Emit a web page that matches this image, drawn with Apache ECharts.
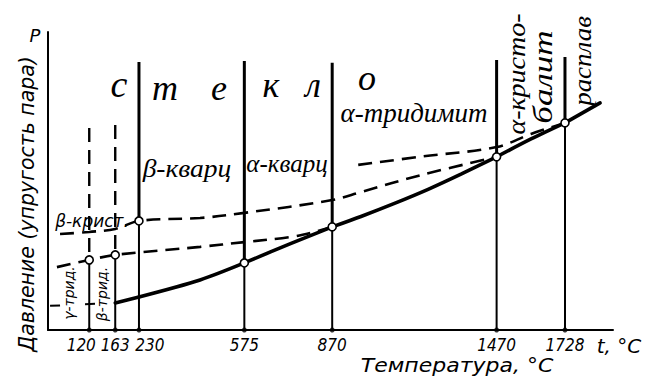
<!DOCTYPE html>
<html><head><meta charset="utf-8">
<script src="https://cdn.jsdelivr.net/npm/echarts@6/dist/echarts.min.js"></script>
<style>html,body{margin:0;padding:0;background:#fff}#c{width:648px;height:379px}</style>
</head><body><div id="c"></div>
<script>
// Temperature tick values, °C
const tempTicks = [120, 163, 230, 575, 870, 1470, 1728];
// The original diagram is schematic (not to scale): temperatures and their places on a 0..100 diagram axis
const scaleTemps = [0, 120, 163, 230, 575, 870, 1470, 1728, 1900];
const scaleUnits = [0, 7.3, 11.9, 16.1, 34.75, 50.3, 79.4, 91.5, 99.6];

// Vapour pressure (arbitrary units 0..100)
// stable curve (solid), with kinks at the transition temperatures
const stableT = [163, 230, 430, 575, 730, 870, 975, 1095, 1220, 1340, 1470, 1600, 1728, 1860];
const stableP = [9.1, 11.1, 16.8, 22.5, 29.0, 34.6, 38.1, 42.4, 47.2, 52.3, 58.1, 64.1, 69.5, 76.2];
// metastable tridymite (dashed)
const tridT = [26, 120, 163, 430, 575, 730, 810, 870];
const tridP = [21.1, 23.5, 25.2, 27.9, 29.5, 31.2, 32.9, 34.6];
// metastable cristobalite (dashed)
const cristT = [35, 120, 163, 230, 430, 575, 870, 975, 1195, 1470];
const cristP = [32.2, 32.9, 33.9, 36.6, 37.6, 39.3, 43.6, 46.3, 52.0, 58.1];
// supercooled melt / glass (dashed)
const glassT = [965, 1195, 1470, 1600, 1728];
const glassP = [55.4, 58.2, 61.4, 65.8, 69.5];
// short dashed continuation at the lower left
const lowT = [6, 163];
const lowP = [8.1, 9.1];
// transition points (open circles), one per tick temperature
const pointP = [23.5, 25.2, 36.6, 22.5, 34.6, 58.1, 69.5];
// upper ends of the vertical boundary lines
const boundaryTop = [67.8, 68.8, 89.9, 90.3, 89.7, 90.6, 91.6];

function toU(t) {
  const n = scaleTemps.length;
  let i = 0;
  if (t >= scaleTemps[n - 1]) i = n - 2;
  else while (i < n - 2 && t > scaleTemps[i + 1]) i++;
  const f = (t - scaleTemps[i]) / (scaleTemps[i + 1] - scaleTemps[i]);
  return scaleUnits[i] + f * (scaleUnits[i + 1] - scaleUnits[i]);
}
const pts = (T, P) => T.map((t, i) => [toU(t), P[i]]);

const INK = '#000';
const DASH = [14, 8];
const series = [];

tempTicks.forEach((t, i) => {
  const u = toU(t);
  series.push({ type: 'line', data: [[u, 0], [u, pointP[i]]], symbol: 'none', silent: true,
    lineStyle: { color: INK, width: 2 }, z: 2 });
  series.push({ type: 'line', data: [[u, boundaryTop[i]], [u, pointP[i]]], symbol: 'none', silent: true,
    lineStyle: { color: INK, width: i < 2 ? 2.4 : 3, type: i < 2 ? DASH : 'solid' }, z: 2 });
});

// stable curve drawn piece by piece between transition temperatures
let seg = [];
stableT.forEach((t, i) => {
  seg.push([toU(t), stableP[i]]);
  const isBreak = tempTicks.indexOf(t) >= 0 && i > 0;
  if (isBreak || i === stableT.length - 1) {
    series.push({ type: 'line', data: seg, smooth: 0.3, symbol: 'none', silent: true,
      lineStyle: { color: INK, width: 3.6, cap: 'round' }, z: 3 });
    seg = [[toU(t), stableP[i]]];
  }
});
series.push({ type: 'line', data: pts(tridT, tridP), smooth: 0.35, symbol: 'none',
  lineStyle: { color: INK, width: 2.6, type: DASH }, z: 3 });
series.push({ type: 'line', data: pts(cristT, cristP), smooth: 0.35, symbol: 'none',
  lineStyle: { color: INK, width: 2.6, type: DASH }, z: 3 });
series.push({ type: 'line', data: pts(glassT, glassP), smooth: 0.35, symbol: 'none',
  lineStyle: { color: INK, width: 2.6, type: DASH }, z: 3 });
series.push({ type: 'line', data: pts(lowT, lowP), symbol: 'none',
  lineStyle: { color: INK, width: 2, type: [10, 25] }, z: 3 });

series.push({ type: 'scatter', data: tempTicks.map((t, i) => [toU(t), pointP[i]]), symbol: 'circle', symbolSize: 8,
  itemStyle: { color: '#fff', borderColor: INK, borderWidth: 1.6, opacity: 1 }, z: 10, silent: true });
series.push({ type: 'scatter', data: tempTicks.map(t => [toU(t), 0]), symbol: 'circle', symbolSize: 5,
  itemStyle: { color: INK }, z: 10, silent: true, clip: false });

const labelShift = { 120: [0, 16, 0, 0], 230: [0, 0, 0, 22] };
const tickFont = "'Liberation Sans Narrow','DejaVu Sans Condensed','Liberation Sans',sans-serif";
const hand = "'Liberation Serif',serif";
const draft = "'DejaVu Sans',sans-serif";

function txt(text, x, y, size, family, rot, sx) {
  return { type: 'text', x: x, y: y, rotation: rot || 0, scaleX: sx || 1, silent: true,
    style: { text: text, fill: INK, align: 'center', verticalAlign: 'middle',
      font: 'italic ' + size + 'px ' + family } };
}

const graphic = [
  txt('P', 35, 35, 18, draft),
  txt('Давление (упругость пара)', 27, 204, 20.5, draft, Math.PI / 2),
  txt('Температура, °С', 457, 365, 20, draft, 0, 1.1),
  txt('t, °C', 619, 346, 20, draft),
  txt('с', 119, 84, 38, hand), txt('т', 165, 88, 36, hand), txt('е', 219, 88, 36, hand),
  txt('к', 271, 85, 36, hand), txt('л', 313, 85, 36, hand), txt('о', 367, 78, 36, hand),
  txt('β-кварц', 187, 169, 25, hand, 0, 1.1),
  txt('α-кварц', 287, 163, 25, hand),
  txt('α-тридимит', 414, 113, 27, hand),
  txt('α-кристо-', 517, 74, 25, hand, Math.PI / 2, 1.12),
  txt('балит', 543, 77, 27, hand, Math.PI / 2, 1.3),
  txt('расплав', 583, 61, 25, hand, Math.PI / 2, 1.08),
  txt('β-крист.', 92, 221, 17, draft),
  txt('γ-трид.', 69, 293, 14, draft, Math.PI / 2),
  txt('β-трид.', 102, 294, 14, draft, Math.PI / 2)
];

const chart = echarts.init(document.getElementById('c'), null, { renderer: 'svg' });
chart.setOption({
  animation: false,
  backgroundColor: '#fff',
  grid: { left: 48, right: 35, top: 32, bottom: 49, containLabel: false },
  xAxis: {
    type: 'value', min: 0, max: 100,
    axisLine: { show: true, onZero: false, lineStyle: { color: INK, width: 2 } },
    axisTick: { show: false },
    splitLine: { show: false },
    axisLabel: {
      customValues: tempTicks.map(toU),
      margin: 6,
      formatter: function (v) {
        let best = 0;
        tempTicks.forEach((t, i) => { if (Math.abs(toU(t) - v) < Math.abs(toU(tempTicks[best]) - v)) best = i; });
        const t = tempTicks[best];
        return labelShift[t] ? '{s' + t + '|' + t + '}' : String(t);
      },
      color: INK, fontSize: 17, fontStyle: 'italic', fontFamily: tickFont,
      rich: {
        s120: { padding: labelShift[120], fontSize: 17, fontStyle: 'italic', fontFamily: tickFont, color: INK },
        s230: { padding: labelShift[230], fontSize: 17, fontStyle: 'italic', fontFamily: tickFont, color: INK }
      }
    }
  },
  yAxis: {
    type: 'value', min: 0, max: 100,
    axisLine: { show: true, onZero: false, lineStyle: { color: INK, width: 2 } },
    axisTick: { show: false }, axisLabel: { show: false }, splitLine: { show: false }
  },
  series: series,
  graphic: graphic
});
</script>
</body></html>
